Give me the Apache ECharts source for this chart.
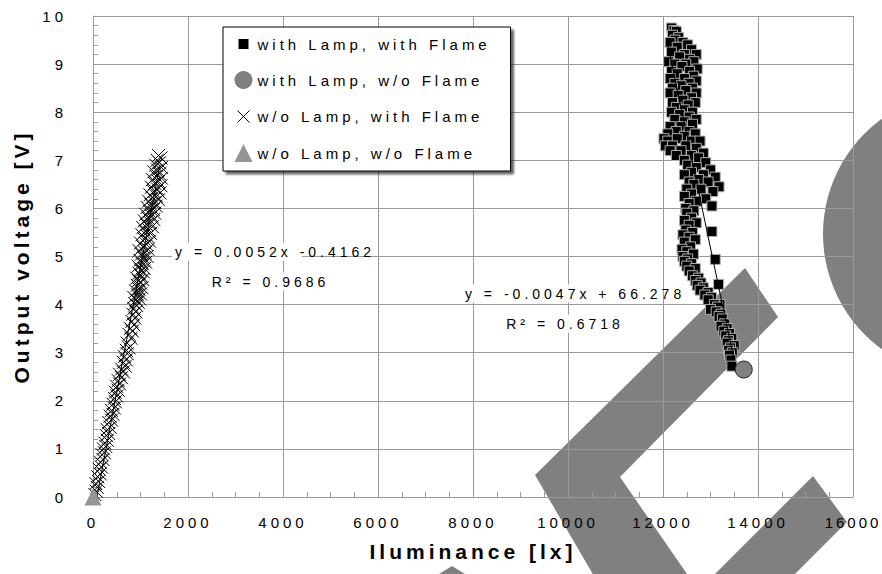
<!DOCTYPE html>
<html>
<head>
<meta charset="utf-8">
<script src="https://cdn.jsdelivr.net/npm/echarts@6/dist/echarts.min.js"></script>
<style>
html,body{margin:0;padding:0;background:#fff;}
#c{width:882px;height:574px;}
#c text{letter-spacing:4px;}
</style>
</head>
<body>
<div id="c"></div>
<script>
// ---- data ----
const seriesNames = ['with Lamp, with Flame', 'with Lamp, w/o Flame', 'w/o Lamp, with Flame', 'w/o Lamp, w/o Flame'];
const xTickValues = [0, 2000, 4000, 6000, 8000, 10000, 12000, 14000, 16000];
const yTickValues = [0, 1, 2, 3, 4, 5, 6, 7, 8, 9, 10];
const xAxisTitle = 'Iluminance [lx]';
const yAxisTitle = 'Output voltage [V]';

const lampFlame = [
  [12180,9.75],[12230,9.7],[12280,9.68],[12200,9.6],[12330,9.55],[12250,9.5],
  [12150,9.45],[12420,9.45],[12520,9.4],[12300,9.35],[12600,9.3],[12180,9.25],[12450,9.2],[12700,9.2],[12350,9.15],[12560,9.1],[12120,9.05],[12650,9.05],[12250,9.0],[12480,9.0],
  [12400,8.95],[12720,8.9],[12180,8.85],[12560,8.85],[12300,8.8],[12640,8.75],[12150,8.7],[12450,8.7],[12700,8.65],[12250,8.6],[12550,8.6],[12380,8.55],[12620,8.5],[12200,8.5],
  [12480,8.45],[12700,8.4],[12150,8.4],[12320,8.35],[12600,8.3],[12420,8.25],[12200,8.2],[12680,8.2],[12530,8.15],[12280,8.1],[12450,8.05],[12620,8.0],[12180,8.0],
  [12350,7.95],[12550,7.9],[12700,7.85],[12250,7.85],[12450,7.8],[12620,7.75],[12150,7.7],[12380,7.7],[12550,7.6],[12280,7.6],[12680,7.55],[12100,7.55],[12450,7.5],
  [12020,7.45],[12100,7.4],[12300,7.45],[12600,7.4],[12780,7.4],[12050,7.3],[12200,7.3],[12480,7.3],[12700,7.25],[12150,7.2],[12380,7.2],[12850,7.15],[12280,7.1],[12600,7.1],[12750,7.05],[12450,7.0],
  [12900,6.95],[12520,6.9],[12700,6.85],[13000,6.8],[12600,6.75],[12850,6.7],[12450,6.7],[13100,6.65],[12750,6.6],[12550,6.55],[12950,6.55],[12650,6.5],
  [13180,6.45],[12500,6.4],[12800,6.4],[13050,6.35],[12600,6.3],[12450,6.25],[12900,6.2],[12700,6.15],[12550,6.1],[13030,6.05],[12480,6.0],
  [12650,5.95],[12500,5.9],[12600,5.8],[12450,5.75],[12700,5.7],[12550,5.65],[12480,5.55],[13030,5.52],[12620,5.5],[12420,5.45],[12550,5.4],[12680,5.35],[12450,5.3],[12580,5.2],[12400,5.15],[12500,5.1],[12640,5.05],[12420,5.0],
  [12520,4.95],[13100,4.94],[12450,4.9],[12600,4.85],[12500,4.8],[12680,4.75],[12550,4.7],[12620,4.6],[12750,4.55],[12680,4.5],[12800,4.45],[13170,4.42],[12720,4.4],
  [12850,4.35],[12780,4.3],[12950,4.25],[12880,4.2],[13020,4.15],[12950,4.1],[13200,4.0],[13080,4.0],[13150,3.95],[13000,3.9],[13120,3.85],[13220,3.8],[13180,3.75],
  [13250,3.7],[13300,3.6],[13220,3.55],[13350,3.5],[13280,3.45],[13400,3.4],[13320,3.35],[13450,3.3],[13380,3.25],[13350,3.2],[13500,3.15],[13420,3.1],[13380,3.05],[13460,3.0],[13400,2.95],[13430,2.85],[13450,2.72]
];
const lampNoFlame = [[13700,2.65]];
const noLampFlame = [
  [40,0.05],[70,0.12],[90,0.2],[60,0.28],[120,0.32],[100,0.42],[150,0.48],[130,0.58],[180,0.62],[160,0.72],[210,0.78],[190,0.88],[240,0.92],[220,1.0],
  [270,1.05],[250,1.12],[300,1.18],[280,1.28],[330,1.32],[300,1.4],[360,1.45],[330,1.55],[390,1.6],[360,1.68],[420,1.72],[390,1.8],[450,1.85],[420,1.93],[470,1.98],
  [450,2.05],[500,2.1],[470,2.18],[530,2.22],[500,2.3],[560,2.35],[530,2.42],[600,2.48],[560,2.55],[640,2.6],[600,2.66],[680,2.72],[640,2.8],[700,2.85],[660,2.92],[720,2.98],
  [700,3.05],[760,3.1],[720,3.2],[800,3.3],[760,3.38],[830,3.45],[790,3.5],[860,3.58],[820,3.65],[880,3.72],[840,3.8],[900,3.85],[860,3.92],[920,3.98],
  [880,4.02],[950,4.05],[910,4.1],[980,4.12],[860,4.15],[940,4.2],[1000,4.22],[900,4.28],[970,4.32],[1030,4.35],[930,4.4],[1000,4.45],[960,4.5],[1050,4.52],[920,4.55],[1010,4.6],[970,4.65],[1060,4.68],
  [1000,4.72],[1080,4.75],[950,4.8],[1040,4.85],[1110,4.88],[990,4.92],[1070,4.97],[1140,5.0],[1020,5.05],[1100,5.08],[970,5.12],[1160,5.15],[1050,5.2],[1130,5.25],[1000,5.28],[1190,5.32],[1080,5.36],[1150,5.42],[1030,5.45],[1210,5.48],
  [1100,5.52],[1180,5.55],[1050,5.6],[1250,5.62],[1130,5.66],[1210,5.7],[1080,5.74],[1280,5.77],[1160,5.8],[1240,5.84],[1110,5.88],[1300,5.9],[1190,5.94],[1270,5.98],
  [1140,6.02],[1330,6.05],[1220,6.08],[1300,6.12],[1170,6.15],[1380,6.18],[1250,6.22],[1340,6.25],[1200,6.28],[1410,6.32],[1280,6.35],[1360,6.4],[1230,6.44],[1430,6.47],
  [1300,6.52],[1380,6.56],[1250,6.6],[1440,6.63],[1330,6.67],[1400,6.72],[1280,6.76],[1360,6.8],[1440,6.85],[1320,6.9],[1400,6.95],[1350,7.0],[1430,7.05],[1380,7.1]
];
const noLampNoFlame = [[0,0]];

// trendlines (end points) and their labels
const trend1 = [[12100,9.41],[13480,2.92]];
const trend2 = [[80,0.0],[1400,6.86]];
const eqTexts = ['y = 0.0052x -0.4162', 'R² = 0.9686', 'y = -0.0047x + 66.278', 'R² = 0.6718'];
const eqAnchors = [[1663,5.10],[3737,4.48],[7768,4.23],[9937,3.60]];
const eqAligns = ['left','center','left','center'];

// ---- chart ----
const FONT = 'Liberation Sans, Arial, sans-serif';
const chart = echarts.init(document.getElementById('c'), null, {renderer:'svg'});
const gridColor = '#9a9a9a';
const crossPath = 'path://M0 0L10 10M10 0L0 10';
const plain = v => String(v);

const option = {
  animation: false,
  backgroundColor: '#fff',
  grid: {left:93, right:29, top:16, bottom:77, outerBoundsMode:'none', containLabel:false},
  xAxis: {
    type:'value', min:xTickValues[0], max:xTickValues[xTickValues.length-1],
    interval:xTickValues[1]-xTickValues[0],
    name:xAxisTitle, nameLocation:'middle', nameGap:44,
    nameTextStyle:{fontFamily:FONT, fontSize:21, fontWeight:'bold', color:'#000'},
    axisLine:{show:true, onZero:false, lineStyle:{color:gridColor, width:1}},
    axisTick:{show:true, inside:true, length:5, lineStyle:{color:gridColor}},
    minorTick:{show:true, splitNumber:4, length:5, lineStyle:{color:gridColor}},
    splitLine:{show:true, lineStyle:{color:gridColor, width:1}},
    axisLabel:{fontFamily:FONT, fontSize:15, color:'#000', margin:18, formatter:plain, showMinLabel:true, showMaxLabel:true}
  },
  yAxis: {
    type:'value', min:yTickValues[0], max:yTickValues[yTickValues.length-1],
    interval:yTickValues[1]-yTickValues[0],
    name:yAxisTitle, nameLocation:'middle', nameGap:61,
    nameTextStyle:{fontFamily:FONT, fontSize:21, fontWeight:'bold', color:'#000'},
    axisLine:{show:true, onZero:false, lineStyle:{color:gridColor, width:1}},
    axisTick:{show:true, inside:true, length:5, lineStyle:{color:gridColor}},
    minorTick:{show:true, splitNumber:5, length:5, lineStyle:{color:gridColor}},
    splitLine:{show:true, lineStyle:{color:gridColor, width:1}},
    axisLabel:{fontFamily:FONT, fontSize:15, color:'#000', margin:26, formatter:plain}
  },
  legend: {
    orient:'vertical', left:223, top:27,
    itemWidth:18, itemHeight:18, itemGap:18,
    padding:[8,13,9,11],
    backgroundColor:'#fff', borderColor:'#000', borderWidth:1, borderRadius:0,
    shadowColor:'rgba(0,0,0,0.6)', shadowBlur:2, shadowOffsetX:3, shadowOffsetY:3,
    textStyle:{fontFamily:FONT, fontSize:15, color:'#000', width:240, lineHeight:18},
    selectedMode:false,
    data:[
      {name:seriesNames[0], icon:'path://M0 0M18 18M4 4L14 4L14 14L4 14Z', itemStyle:{color:'#000', borderWidth:0}},
      {name:seriesNames[1], icon:'circle', itemStyle:{color:'#808080', borderColor:'#808080', borderWidth:0}},
      {name:seriesNames[2], icon:'path://M0 0M18 18M3 3L15 15M15 3L3 15', itemStyle:{color:'transparent', borderColor:'#000', borderWidth:1}},
      {name:seriesNames[3], icon:'triangle', itemStyle:{color:'#959595', borderWidth:0}}
    ]
  },
  series: [
    {name:seriesNames[2], type:'scatter', data:noLampFlame, symbol:crossPath, symbolSize:13,
     itemStyle:{color:'transparent', borderColor:'#000', borderWidth:1, opacity:1}, z:3},
    {name:'trend2', type:'line', data:trend2, symbol:'none', lineStyle:{color:'#000', width:1}, z:4, silent:true},
    {name:seriesNames[0], type:'scatter', data:lampFlame, symbol:'rect', symbolSize:10,
     itemStyle:{color:'#000', borderColor:'#b0b0b0', borderWidth:1, opacity:1}, z:3},
    {name:'trend1', type:'line', data:trend1, symbol:'none', lineStyle:{color:'#000', width:1}, z:4, silent:true},
    {name:seriesNames[1], type:'scatter', data:lampNoFlame, symbol:'circle', symbolSize:17,
     itemStyle:{color:'#808080', borderColor:'#222', borderWidth:1, opacity:1}, z:5},
    {name:seriesNames[3], type:'scatter', data:noLampNoFlame, symbol:'triangle', symbolSize:17,
     itemStyle:{color:'#959595', borderWidth:0, opacity:1}, z:5}
  ]
};
chart.setOption(option);

// annotations + background decoration
const graphics = [];
const greyFill = '#808080';
graphics.push({type:'circle', z:-1, silent:true, shape:{cx:965, cy:234, r:142}, style:{fill:greyFill}});
graphics.push({type:'polygon', z:-1, silent:true, shape:{points:[[535,475],[745,268],[778,317],[620,477],[705,600],[608,600]]}, style:{fill:greyFill}});
graphics.push({type:'polygon', z:-1, silent:true, shape:{points:[[813,476],[847,522],[769,600],[689,600]]}, style:{fill:greyFill}});
graphics.push({type:'polygon', z:-1, silent:true, shape:{points:[[452,566],[426,582],[478,582]]}, style:{fill:greyFill}});

eqTexts.forEach((t, i) => {
  const p = chart.convertToPixel({gridIndex:0}, eqAnchors[i]);
  graphics.push({type:'text', z:6, silent:true, x:p[0], y:p[1],
    style:{text:t, fontFamily:FONT, fontSize:14, fill:'#000', align:eqAligns[i], verticalAlign:'middle',
      backgroundColor:'#fff', padding:[2,3,2,3]}});
});
chart.setOption({graphic:{elements:graphics}});

// keep the last x tick label inside the page edge (tighter spacing for it only)
const lastX = String(xTickValues[xTickValues.length-1]);
function tightenEdgeLabel(){
  document.querySelectorAll('#c text').forEach(el => {
    if (el.textContent === lastX) el.style.letterSpacing = '3px';
  });
}
chart.on('finished', tightenEdgeLabel);
tightenEdgeLabel();
setTimeout(tightenEdgeLabel, 50);
</script>
</body>
</html>
